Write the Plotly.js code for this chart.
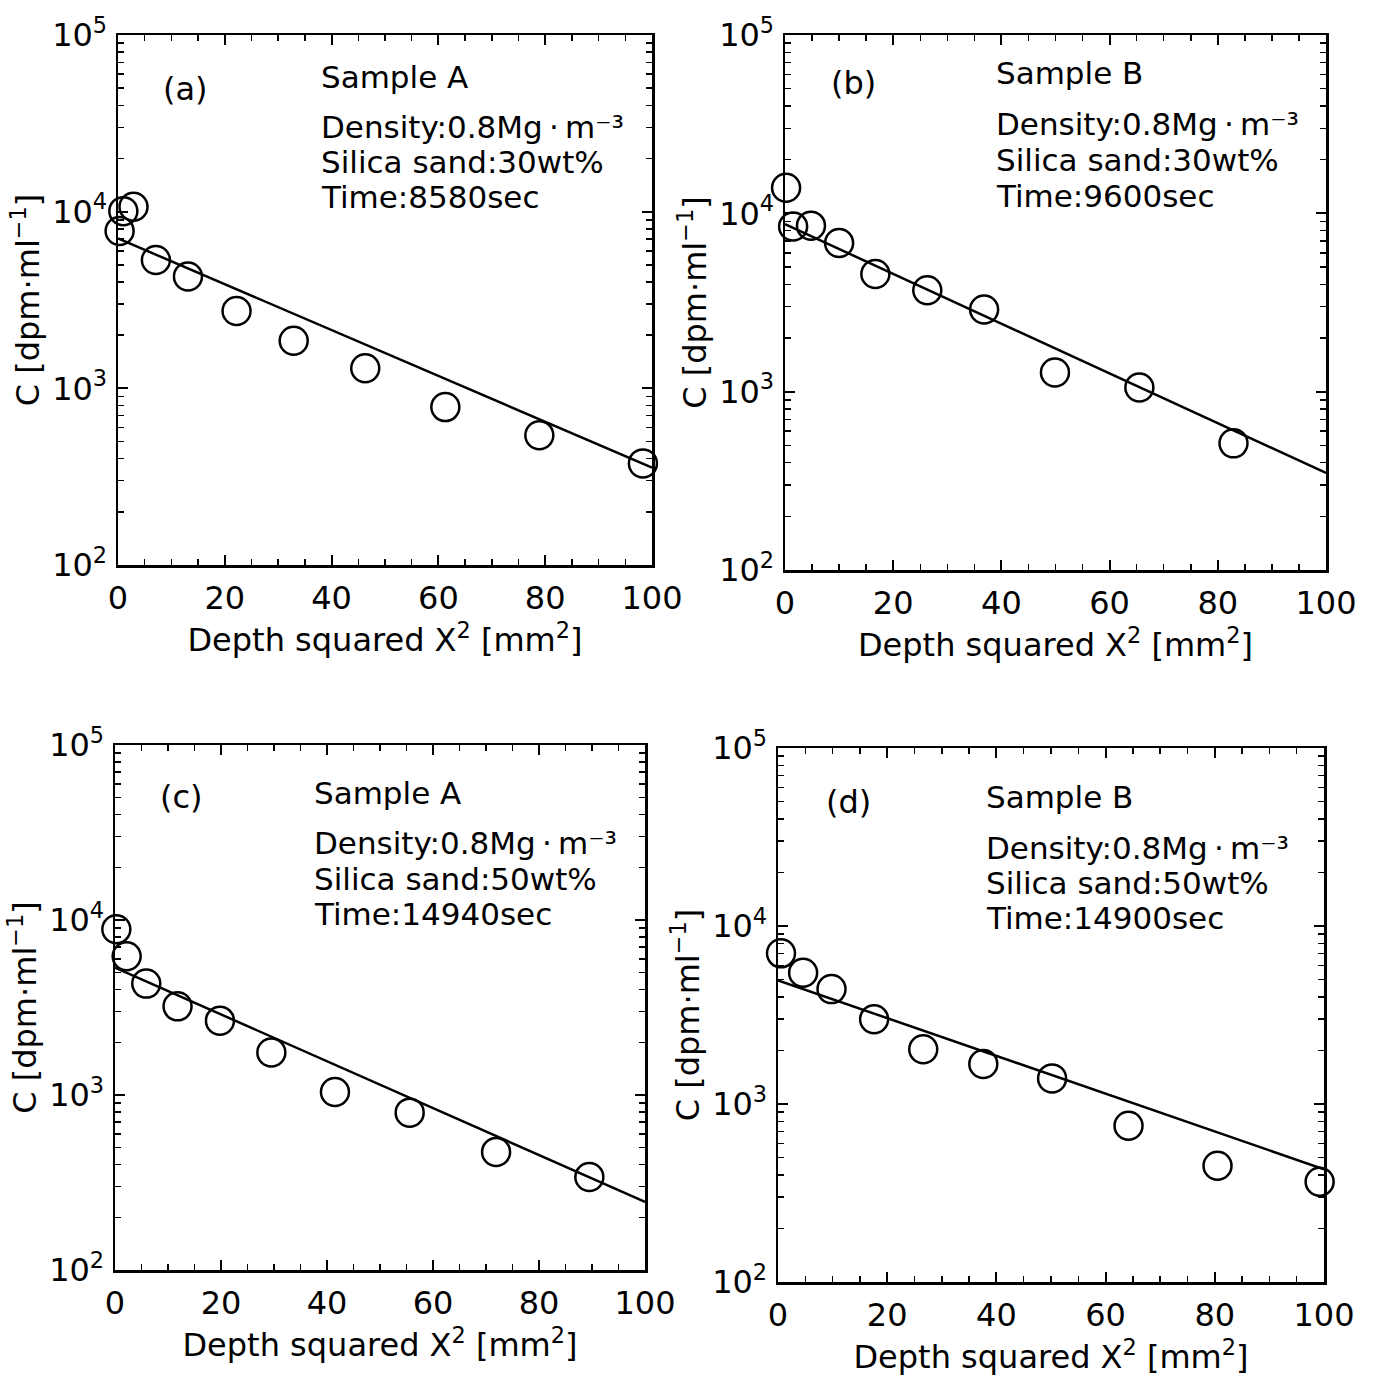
<!DOCTYPE html>
<html><head><meta charset="utf-8">
<script src="https://cdn.plot.ly/plotly-3.0.1.min.js"></script>
<style>body{margin:0;background:#fff}#chart{width:1374px;height:1377px}</style>
</head><body><div id="chart"></div>
<script>
// ---- data ----
const xA = [0.3, 1.0, 2.9, 7.1, 13.1, 22.2, 32.9, 46.3, 61.3, 78.9, 98.3];
const cA = [7780, 10070, 10670, 5330, 4300, 2740, 1860, 1300, 783, 543, 376];
const fitXA = [0, 100];
const fitCA = [7060, 356];

const xB = [0.2, 1.5, 4.8, 10.0, 16.7, 26.3, 36.8, 49.9, 65.5, 82.9];
const cB = [13900, 8440, 8530, 6820, 4570, 3700, 2890, 1280, 1054, 513];
const fitXB = [0, 100];
const fitCB = [8700, 350];

const xC = [0.25, 2.2, 5.9, 11.8, 19.8, 29.5, 41.5, 55.6, 71.9, 89.5];
const cC = [8860, 6210, 4330, 3210, 2660, 1750, 1040, 793, 472, 340];
const fitXC = [0, 100];
const fitCC = [5350, 245];

const xD = [0.55, 4.6, 9.8, 17.6, 26.6, 37.6, 50.2, 64.2, 80.5, 99.2];
const cD = [7020, 5460, 4420, 2990, 2030, 1676, 1393, 755, 450, 366];
const fitXD = [0, 100];
const fitCD = [4950, 430];

const panelLabels = ["(a)", "(b)", "(c)", "(d)"];
const sampleNames = ["Sample A", "Sample B", "Sample A", "Sample B"];
const densityText = "Density:0.8Mg\u2009\u00B7\u2009m\u207B\u00B3";
const silicaText = ["Silica sand:30wt%", "Silica sand:30wt%", "Silica sand:50wt%", "Silica sand:50wt%"];
const timeText = ["Time:8580sec", "Time:9600sec", "Time:14940sec", "Time:14900sec"];

const yTickVals = [100, 1000, 10000, 100000];
const yTickText = ["10<sup>2</sup>", "10<sup>3</sup>", "10<sup>4</sup>", "10<sup>5</sup>"];
const xTitle = "Depth squared X<sup>2</sup> [mm<sup>2</sup>]";
const yTitle = "C [dpm\u00B7ml<sup>\u22121</sup>]";

// ---- layout ----
const W = 1374, H = 1377;
const FONT = "DejaVu Sans, Liberation Sans, sans-serif";
// pixel boxes [left, right, top, bottom]
const boxes = [[118, 652, 35, 565], [785, 1326, 35, 570], [115, 645, 745, 1270], [778, 1324, 748, 1282]];
// annotation anchor positions (px): label center, text left, text rows y
const labelPos = [[185, 89], [853, 83], [181, 797], [848, 802]];
const textLeft = [319, 994, 312, 984];
const textRows = [[77, 127, 162, 197], [73, 124, 160, 196], [793, 843, 879, 914], [797, 848, 883, 918]];

const minorY = [];
for (let d = 100; d < 100000; d *= 10) for (let k = 2; k <= 9; k++) minorY.push(k * d);

const xs = [xA, xB, xC, xD], cs = [cA, cB, cC, cD];
const fxs = [fitXA, fitXB, fitXC, fitXD], fcs = [fitCA, fitCB, fitCC, fitCD];

const traces = [];
const layout = {
  width: W, height: H, margin: {l: 0, r: 0, t: 0, b: 0},
  paper_bgcolor: "#fff", plot_bgcolor: "#fff", showlegend: false,
  font: {family: FONT, color: "#000", size: 30},
  annotations: []
};

for (let i = 0; i < 4; i++) {
  const sfx = i === 0 ? "" : String(i + 1);
  const b = boxes[i];
  traces.push({x: fxs[i], y: fcs[i], xaxis: "x" + sfx, yaxis: "y" + sfx, type: "scatter", mode: "lines",
    line: {color: "#000", width: 2.5}, hoverinfo: "skip"});
  traces.push({x: xs[i], y: cs[i], xaxis: "x" + sfx, yaxis: "y" + sfx, type: "scatter", mode: "markers",
    cliponaxis: false,
    marker: {symbol: "circle-open", size: 28, color: "#000", line: {width: 2.5, color: "#000"}}});
  layout["xaxis" + sfx] = {
    domain: [b[0] / W, b[1] / W], anchor: "y" + sfx, range: [0, 100],
    tickmode: "linear", tick0: 0, dtick: 20, ticks: "inside", ticklen: 10, tickwidth: 2, tickcolor: "#000",
    minor: {dtick: 5, ticks: "inside", ticklen: 6, tickwidth: 1.5, tickcolor: "#000"},
    showline: true, linewidth: 2.5, linecolor: "#000", mirror: "ticks", showgrid: false, zeroline: false,
    tickfont: {size: 32, family: FONT}, ticklabelstandoff: 3,
    title: {text: xTitle, font: {size: 32, family: FONT}, standoff: 12}
  };
  layout["yaxis" + sfx] = {
    domain: [1 - b[3] / H, 1 - b[2] / H], anchor: "x" + sfx, type: "log", range: [2, 5],
    tickmode: "array", tickvals: yTickVals, ticktext: yTickText,
    ticks: "inside", ticklen: 10, tickwidth: 2, tickcolor: "#000",
    minor: {tickmode: "array", tickvals: minorY, ticks: "inside", ticklen: 6, tickwidth: 1.5, tickcolor: "#000"},
    showline: true, linewidth: 2.5, linecolor: "#000", mirror: "ticks", showgrid: false, zeroline: false,
    tickfont: {size: 32, family: FONT}, ticklabelstandoff: 2,
    title: {text: yTitle, font: {size: 32, family: FONT}, standoff: 3}
  };
  const lp = labelPos[i];
  layout.annotations.push({xref: "paper", yref: "paper", x: lp[0] / W, y: 1 - lp[1] / H,
    xanchor: "center", yanchor: "middle", text: panelLabels[i], showarrow: false, font: {size: 32}});
  const rows = [sampleNames[i], densityText, silicaText[i], timeText[i]];
  for (let r = 0; r < 4; r++) {
    layout.annotations.push({xref: "paper", yref: "paper", x: textLeft[i] / W, y: 1 - textRows[i][r] / H,
      xanchor: "left", yanchor: "middle", text: rows[r], showarrow: false, font: {size: 31}});
  }
}

Plotly.newPlot("chart", traces, layout, {displayModeBar: false, staticPlot: true});
</script>
</body></html>
